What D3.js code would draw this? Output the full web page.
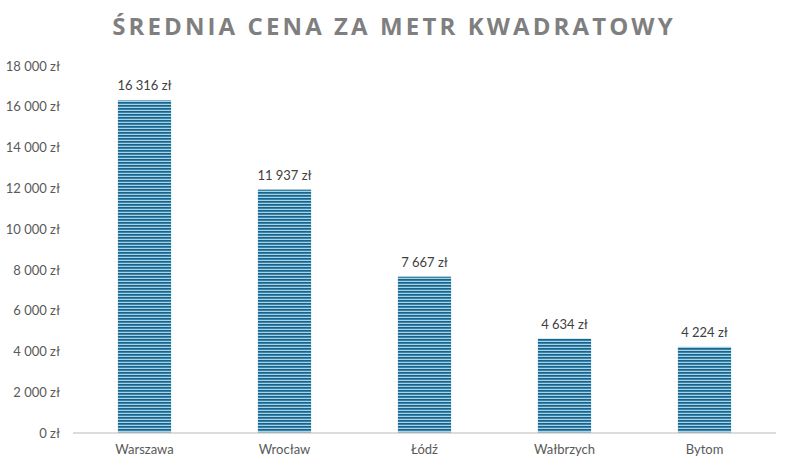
<!DOCTYPE html>
<html><head><meta charset="utf-8">
<script src="https://cdn.jsdelivr.net/npm/d3@7"></script>
<style>body{margin:0;background:#fff}svg{display:block}</style>
</head><body>
<script>
const categories = ["Warszawa", "Wrocław", "Łódź", "Wałbrzych", "Bytom"];
const values = [16316, 11937, 7667, 4634, 4224];
const tickValues = [0, 2000, 4000, 6000, 8000, 10000, 12000, 14000, 16000, 18000];
const title = "ŚREDNIA CENA ZA METR KWADRATOWY";

const W = 787, H = 465;
const fmt = v => d3.format(",")(v).replace(/,/g, " ") + " zł";

const svg = d3.select("body").append("svg").attr("width", W).attr("height", H);
const defs = svg.append("defs");
const pat = defs.append("pattern").attr("id", "stripes").attr("patternUnits", "userSpaceOnUse")
  .attr("width", 4).attr("height", 3);
pat.append("rect").attr("width", 4).attr("height", 3).attr("fill", "#3584ab");
pat.append("rect").attr("y", 0).attr("width", 4).attr("height", 1).attr("fill", "#1d6389");
pat.append("rect").attr("y", 2).attr("width", 4).attr("height", 1).attr("fill", "#a9d3e4");

const x = d3.scaleBand().domain(categories).range([74.5, 774.5]).paddingInner(0.62).paddingOuter(0.31);
const y = d3.scaleLinear().domain([0, 18000]).range([433, 66]);

svg.append("text").attr("x", 394).attr("y", 35).attr("text-anchor", "middle")
  .attr("font-family", "Open Sans, sans-serif").attr("font-weight", "bold").attr("font-size", 24)
  .attr("letter-spacing", 3.1).attr("fill", "#7f7f7f").text(title);

const yAxis = svg.append("g").attr("transform", "translate(73,0)")
  .call(d3.axisLeft(y).tickValues(tickValues).tickSize(0).tickPadding(13).tickFormat(fmt));
yAxis.select(".domain").remove();
yAxis.selectAll("text").attr("font-family", "Lato, sans-serif").attr("font-size", 13).attr("fill", "#595959");

svg.selectAll("rect.bar").data(values).join("rect").attr("class", "bar")
  .attr("x", (d, i) => x(categories[i])).attr("width", x.bandwidth())
  .attr("y", d => y(d)).attr("height", d => y(0) - y(d)).attr("fill", "url(#stripes)");

svg.selectAll("text.lbl").data(values).join("text").attr("class", "lbl")
  .attr("x", (d, i) => x(categories[i]) + x.bandwidth() / 2).attr("y", d => y(d) - 10)
  .attr("text-anchor", "middle").attr("font-family", "Lato, sans-serif").attr("font-size", 13)
  .attr("fill", "#404040").text(d => fmt(d));

const xAxis = svg.append("g").attr("transform", "translate(0,433)")
  .call(d3.axisBottom(x).tickSize(0).tickPadding(12));
xAxis.select(".domain").attr("stroke", "#d0d0d0").attr("stroke-width", 1.5).attr("d", "M73,0H776");
xAxis.selectAll("text").attr("font-family", "Lato, sans-serif").attr("font-size", 13).attr("fill", "#595959");
</script>
</body></html>
